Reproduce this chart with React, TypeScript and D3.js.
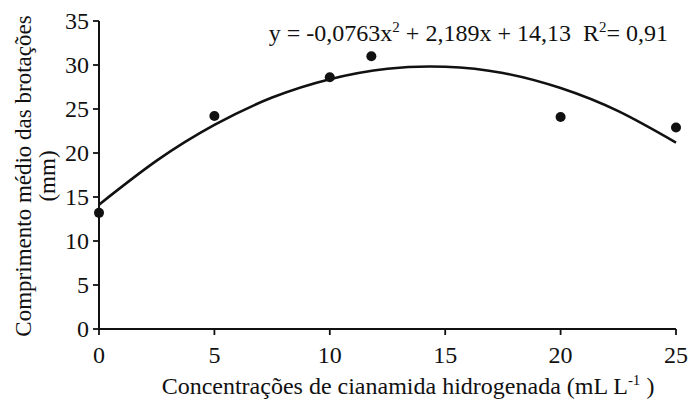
import React from "react";
import * as d3 from "d3";

// observed means
const doses = [0, 5, 10, 11.8, 20, 25];
const lengths = [13.2, 24.2, 28.6, 31.0, 24.1, 22.9];

// fitted curve
const curveX = [0, 2.5, 5, 7.5, 10, 12.5, 15, 17.5, 20, 22.5, 25];
const curveY = [14.13, 19.13, 23.19, 26.3, 28.39, 29.58, 29.8, 29.09, 27.38, 24.75, 21.18];

const xTicks = [0, 5, 10, 15, 20, 25];
const yTicks = [0, 5, 10, 15, 20, 25, 30, 35];

const FONT = "serif";
const FS = 24;
const SUP = 15;
const INK = "#111";

const left = 99;
const right = 676;
const top = 21;
const bottom = 329;

const x = d3.scaleLinear().domain([0, 25]).range([left, right]);
const y = d3.scaleLinear().domain([0, 35]).range([bottom, top]);

const line = d3
  .line<number>()
  .x((d) => x(d))
  .y((d, i) => y(curveY[i]))
  .curve(d3.curveNatural);

export default function App() {
  return (
    <svg
      width={691}
      height={407}
      style={{ position: "absolute", left: 0, top: 0, background: "#fff" }}
    >
      {/* y axis */}
      <line x1={left} x2={left} y1={y(35)} y2={bottom} stroke={INK} strokeWidth={2} />
      {yTicks.map((t) => (
        <g key={"y" + t} transform={`translate(${left},${y(t)})`}>
          <line x1={-6} x2={0} stroke={INK} strokeWidth={1.8} />
          <text x={-10} dy={8} textAnchor="end" fontSize={FS} fontFamily={FONT} fill={INK}>
            {t}
          </text>
        </g>
      ))}

      {/* x axis */}
      <line x1={left} x2={right} y1={bottom} y2={bottom} stroke={INK} strokeWidth={2} />
      {xTicks.map((t) => (
        <g key={"x" + t} transform={`translate(${x(t)},${bottom})`}>
          <line y1={0} y2={6} stroke={INK} strokeWidth={1.8} />
          <text y={34} textAnchor="middle" fontSize={FS} fontFamily={FONT} fill={INK}>
            {t}
          </text>
        </g>
      ))}

      {/* fitted curve */}
      <path d={line(curveX) || ""} fill="none" stroke={INK} strokeWidth={2.6} />

      {/* observed points */}
      {doses.map((d, i) => (
        <circle key={"p" + i} cx={x(d)} cy={y(lengths[i])} r={5} fill={INK} />
      ))}

      {/* equation */}
      <text x={668} y={41} textAnchor="end" fontSize={FS} fontFamily={FONT} fill={INK}>
        <tspan>y = -0,0763x</tspan>
        <tspan dy={-9} fontSize={SUP}>2</tspan>
        <tspan dy={9}> + 2,189x + 14,13{"\u00a0\u00a0"}R</tspan>
        <tspan dy={-9} fontSize={SUP}>2</tspan>
        <tspan dy={9}>= 0,91</tspan>
      </text>

      {/* x label */}
      <text x={408} y={394} textAnchor="middle" fontSize={FS} fontFamily={FONT} fill={INK}>
        <tspan>Concentrações de cianamida hidrogenada (mL L</tspan>
        <tspan dy={-9} fontSize={SUP}>-1</tspan>
        <tspan dy={9}> )</tspan>
      </text>

      {/* y label */}
      <text
        transform="translate(31,176) rotate(-90)"
        textAnchor="middle"
        fontSize={23}
        fontFamily={FONT}
        fill={INK}
      >
        <tspan x={0} dy={0}>Comprimento médio das brotações</tspan>
        <tspan x={0} dy={24}>(mm)</tspan>
      </text>
    </svg>
  );
}
